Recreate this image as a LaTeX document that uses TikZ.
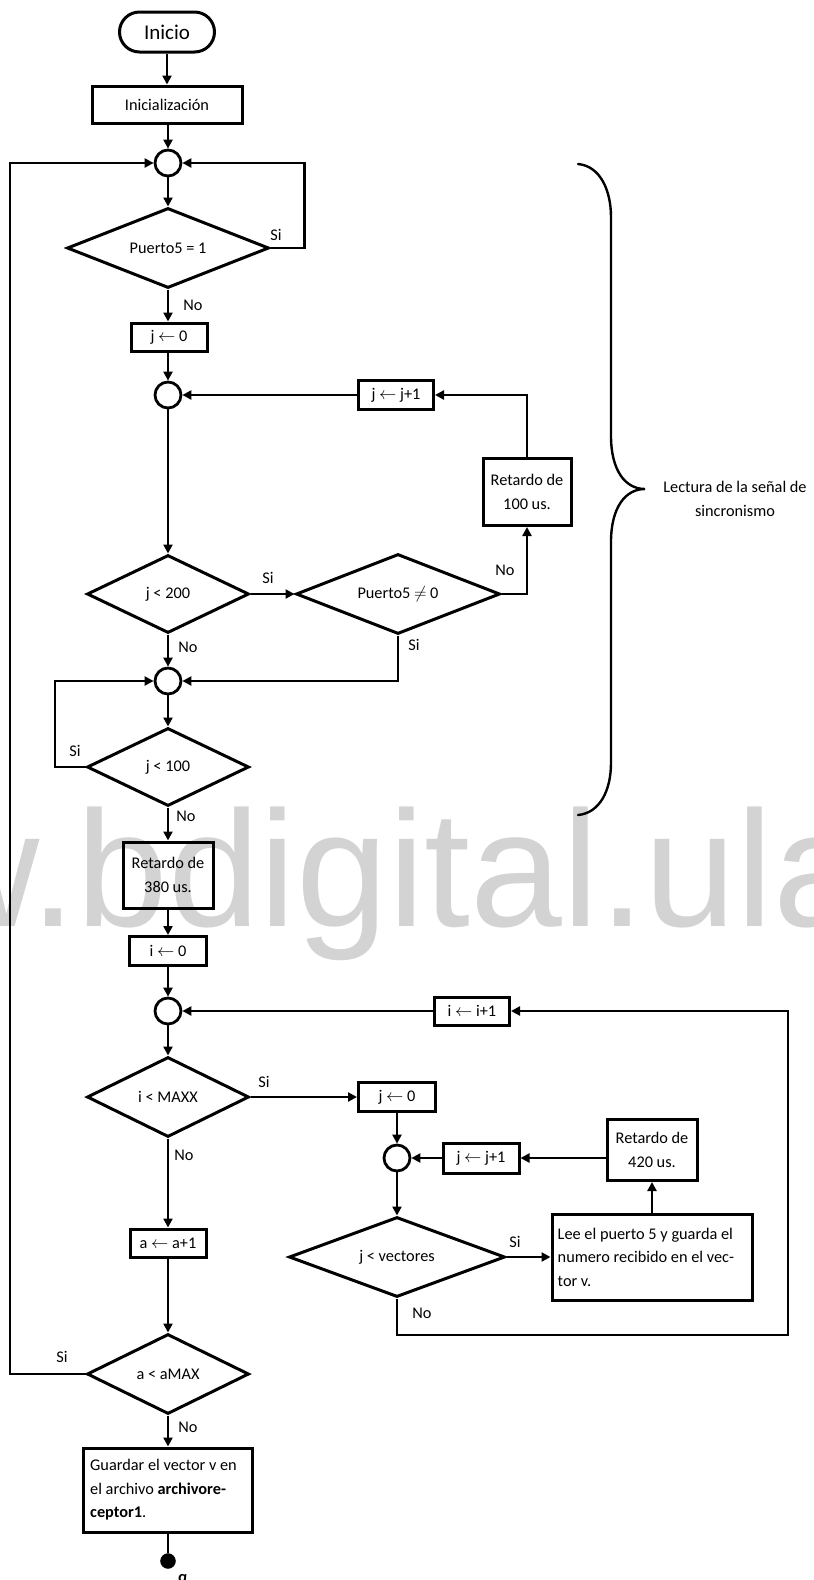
\documentclass[tikz,border=0pt]{standalone}
\usepackage{fontspec}
\setmainfont{Carlito}
\newfontfamily\wmfont{Liberation Sans}
\usetikzlibrary{shapes.geometric, arrows.meta}
\definecolor{wm}{RGB}{211,211,211}
\newcommand\fs{\fontsize{16.3}{23.5}\selectfont}
\newcommand\la{$\leftarrow$}
\begin{document}
\begin{tikzpicture}[x=1pt, y=-1pt,
  every node/.style={font=\fs},
  box/.style={draw, line width=3pt, rectangle, inner sep=0pt, align=center},
  dec/.style={draw, diamond, line width=3pt, inner sep=0pt, aspect=3},
  junc/.style={draw, circle, line width=2.8pt, minimum size=26pt, inner sep=0pt},
  conn/.style={line width=2.8pt, -{Triangle[length=9pt,width=9pt]}},
  plain/.style={line width=2.8pt},
  lbl/.style={inner sep=0pt},
  brace/.style={line width=2.4pt, line cap=round}]
\useasboundingbox (0,0) rectangle (814,1580);
% watermark
\begin{scope}
\clip (0,0) rectangle (814,1580);
\node[anchor=base west, inner sep=0pt, text=wm, font=\wmfont\fontsize{165}{165}\selectfont] (wmk) at (-318,926) {www.bdigital.ula.ve};
\end{scope}

% nodes
\node[draw, line width=3pt, rounded corners=20pt, minimum width=95pt, minimum height=40pt, inner sep=0pt, font=\fontsize{21}{24}\selectfont] (inicio) at (167,32) {Inicio};
\node[box, minimum width=150pt, minimum height=37pt] (init) at (167,104.5) {Inicialización};
\node[junc] (c1) at (168,163) {};
\node[dec, minimum width=202pt, minimum height=80pt] (d1) at (168,248) {Puerto5 = 1};
\node[box, minimum width=76pt, minimum height=28pt] (j0) at (169,337) {j \la{} 0};
\node[junc] (c2) at (168,395) {};
\node[box, minimum width=75pt, minimum height=29pt] (jj1) at (396,395) {j \la{} j+1};
\node[box, minimum width=88pt, minimum height=67pt] (ret100) at (527,492) {Retardo de\\100 us.};
\node[dec, minimum width=162pt, minimum height=78pt] (d200) at (168,594) {j < 200};
\node[dec, minimum width=204pt, minimum height=80pt] (dp) at (398,594) {Puerto5 $\neq$ 0};
\node[junc] (c3) at (168,681) {};
\node[dec, minimum width=162pt, minimum height=78pt] (d100) at (168,767) {j < 100};
\node[box, minimum width=90pt, minimum height=66pt] (ret380) at (168,875) {Retardo de\\380 us.};
\node[box, minimum width=77pt, minimum height=29pt] (i0) at (168,951) {i \la{} 0};
\node[junc] (c4) at (168,1011) {};
\node[box, minimum width=75pt, minimum height=28pt] (ii1) at (472,1011) {i \la{} i+1};
\node[dec, minimum width=162pt, minimum height=80pt] (dmaxx) at (168,1097) {i < MAXX};
\node[box, minimum width=77pt, minimum height=29pt] (j02) at (397,1097) {j \la{} 0};
\node[junc] (c5) at (397,1158) {};
\node[box, minimum width=76pt, minimum height=30pt] (jj12) at (481,1158) {j \la{} j+1};
\node[box, minimum width=90pt, minimum height=61pt] (ret420) at (652,1150) {Retardo de\\420 us.};
\node[dec, minimum width=216pt, minimum height=80pt] (dvec) at (397,1257) {j < vectores};
\node[box, minimum width=200pt, minimum height=86pt] (lee) at (652,1257) {};
\node[anchor=west, inner sep=0pt, align=left] (leetxt) at ([xshift=7pt]lee.west) {Lee el puerto 5 y guarda el\\numero recibido en el vec-\\tor v.};
\node[box, minimum width=76pt, minimum height=28pt] (a1) at (168,1243) {a \la{} a+1};
\node[dec, minimum width=162pt, minimum height=80pt] (damax) at (168,1374) {a < aMAX};
\node[box, minimum width=169pt, minimum height=84pt] (guardar) at (168,1490) {};
\node[anchor=west, inner sep=0pt, align=left] (guardtxt) at ([xshift=8pt]guardar.west) {Guardar el vector v en\\el archivo \textbf{archivore-}\\\textbf{ceptor1}.};
\node[draw, fill, circle, minimum size=15pt, inner sep=0pt] (dot) at (168,1561) {};
\node[anchor=base, inner sep=0pt] (alpha) at (183,1582) {\textbf{α}};

% labels
\node[lbl] (l1) at (276,235) {Si};
\node[lbl] (l2) at (193,305) {No};
\node[lbl] (l3) at (268,578) {Si};
\node[lbl] (l4) at (505,570) {No};
\node[lbl] (l5) at (414,645) {Si};
\node[lbl] (l6) at (188,647) {No};
\node[lbl] (l7) at (75,751) {Si};
\node[lbl] (l8) at (186,816) {No};
\node[lbl] (l9) at (264,1082) {Si};
\node[lbl] (l10) at (184,1155) {No};
\node[lbl] (l11) at (515,1242) {Si};
\node[lbl] (l12) at (422,1313) {No};
\node[lbl] (l13) at (62,1357) {Si};
\node[lbl] (l14) at (188,1427) {No};

% brace and its text
\draw[brace] (578,164) .. controls (600,166) and (611,190) .. (611,217) -- (611,436)
  .. controls (611,470) and (625,489) .. (645,489)
  .. controls (625,489) and (611,508) .. (611,542) -- (611,763)
  .. controls (611,790) and (600,813) .. (578,815);
\node[align=center] (bracetxt) at (735,499) {Lectura de la señal de\\sincronismo};

% connectors
\draw[conn] (inicio) -- (init);
\draw[conn] (init.south -| c1.north) -- (c1);
\draw[conn] (c1) -- (d1);
\draw[conn] (d1.east) -- ++(34,0) |- (c1.east);
\draw[conn] (d1) -- (j0.north -| d1.south);
\draw[conn] (j0.south -| c2.north) -- (c2);
\draw[conn] (c2) -- (d200);
\draw[conn] (d200.east) -- (dp.west);
\draw[conn] (dp.east) -| (ret100.south);
\draw[conn] (ret100.north) |- (jj1.east);
\draw[conn] (jj1.west) -- (c2.east);
\draw[conn] (dp.south) |- (c3.east);
\draw[conn] (d200) -- (c3);
\draw[conn] (c3) -- (d100);
\draw[conn] (d100.west) -- (55,767) |- (c3.west);
\draw[conn] (d100) -- (ret380);
\draw[conn] (ret380) -- (i0);
\draw[conn] (i0) -- (c4);
\draw[conn] (c4) -- (dmaxx);
\draw[conn] (dmaxx.east) -- (j02.west);
\draw[conn] (j02) -- (c5);
\draw[conn] (c5) -- (dvec);
\draw[conn] (dvec.east) -- (lee.west);
\draw[conn] (lee) -- (ret420);
\draw[conn] (ret420.west |- jj12.east) -- (jj12.east);
\draw[conn] (jj12.west) -- (c5.east);
\draw[conn] (dvec.south) |- (788,1335) |- (ii1.east);
\draw[conn] (ii1.west) -- (c4.east);
\draw[conn] (dmaxx) -- (a1);
\draw[conn] (a1) -- (damax);
\draw[conn] (damax.west) -- (10,1374) |- (c1.west);
\draw[conn] (damax) -- (guardar);
\draw[plain] (guardar) -- (dot);
\end{tikzpicture}
\end{document}
